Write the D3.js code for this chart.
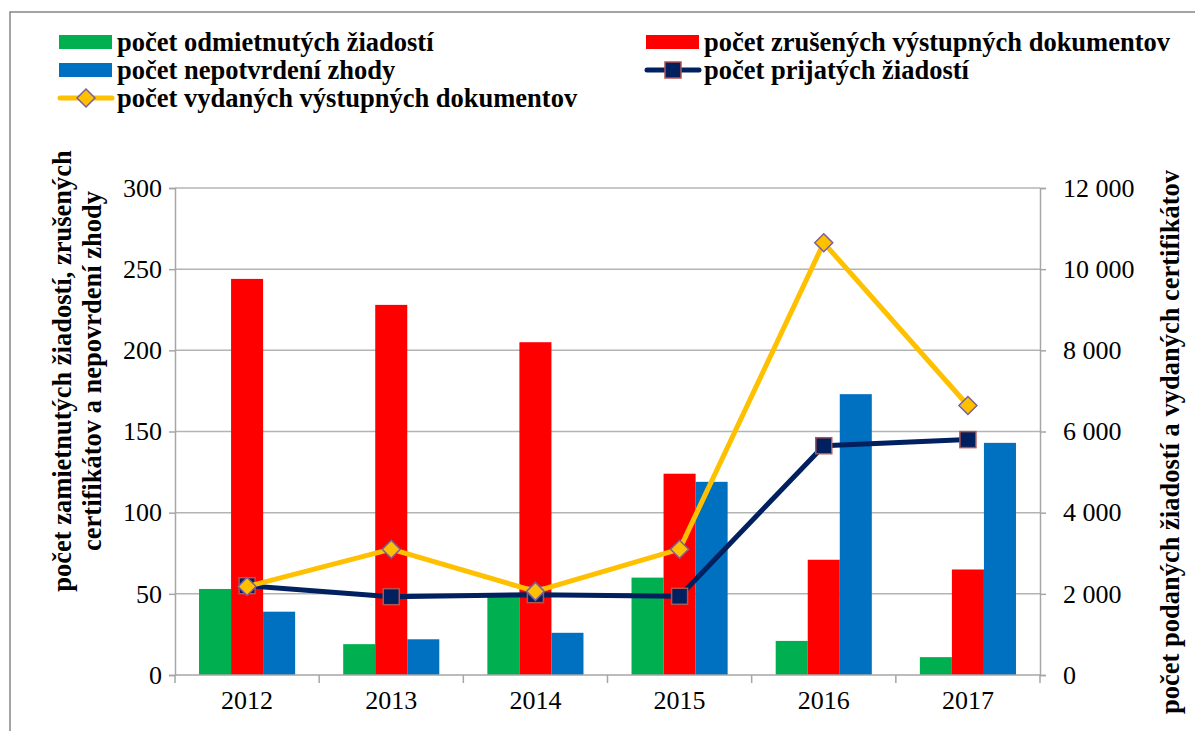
<!DOCTYPE html>
<html><head><meta charset="utf-8">
<script src="https://cdn.jsdelivr.net/npm/d3@7"></script>
<style>
html,body{margin:0;padding:0;background:#fff;}
svg{display:block;}
</style></head>
<body>
<svg id="chart" width="1195" height="731"></svg>
<script>
const years = ["2012","2013","2014","2015","2016","2017"];
const odmietnute = [53, 19, 49, 60, 21, 11];
const zrusene = [244, 228, 205, 124, 71, 65];
const nepotvrdenie = [39, 22, 26, 119, 173, 143];
const prijate = [2200, 1930, 1980, 1940, 5650, 5800];
const vydane = [2180, 3100, 2060, 3100, 10650, 6640];
const leftTicks = [0, 50, 100, 150, 200, 250, 300];
const rightTicks = [0, 2000, 4000, 6000, 8000, 10000, 12000];
const barSeries = [
  {name:"počet odmietnutých žiadostí", values:odmietnute, color:"#00B050"},
  {name:"počet zrušených výstupných dokumentov", values:zrusene, color:"#FF0000"},
  {name:"počet nepotvrdení zhody", values:nepotvrdenie, color:"#0070C0"}
];
const legendItems = [
  {name:"počet odmietnutých žiadostí", type:"bar", color:"#00B050"},
  {name:"počet zrušených výstupných dokumentov", type:"bar", color:"#FF0000"},
  {name:"počet nepotvrdení zhody", type:"bar", color:"#0070C0"},
  {name:"počet prijatých žiadostí", type:"square", color:"#002060"},
  {name:"počet vydaných výstupných dokumentov", type:"diamond", color:"#FFC000"}
];
const leftTitle = ["počet zamietnutých žiadostí, zrušených", "certifikátov a nepovrdení zhody"];
const rightTitle = "počet podaných žiadostí a vydaných certifikátov";

const FONT = "Liberation Serif";
const FS = 26;     // tick labels
const FSB = 26.5;  // bold labels
const svg = d3.select("#chart");
const W = 1195, H = 731;
const plot = {l:175, r:1040, t:188, b:675};
const axisColor = "#a6a6a6";
const bold = sel => sel.attr("font-family",FONT).attr("font-weight","bold").attr("fill","#000");

// outer frame
svg.append("rect").attr("x",10).attr("y",12).attr("width",W+20).attr("height",H+20)
  .attr("fill","none").attr("stroke","#868686").attr("stroke-width",1.5);

const x = d3.scaleBand().domain(years).range([plot.l, plot.r]).paddingInner(0).paddingOuter(0);
const groupW = x.bandwidth() * 2/3;
const xs = d3.scaleBand().domain(d3.range(barSeries.length)).range([-groupW/2, groupW/2]);
const yL = d3.scaleLinear().domain([0,300]).range([plot.b, plot.t]);
const yR = d3.scaleLinear().domain([0,12000]).range([plot.b, plot.t]);
const loc = d3.formatLocale({decimal:",", thousands:" ", grouping:[3], currency:["",""]});
const fmtR = loc.format(",d");

// gridlines
svg.append("g").selectAll("line").data(leftTicks.filter(d=>d>0)).join("line")
  .attr("x1",plot.l).attr("x2",plot.r)
  .attr("y1",d=>yL(d)).attr("y2",d=>yL(d))
  .attr("stroke","#b4b4b4").attr("stroke-width",1.5);

// left axis
const gL = svg.append("g").attr("transform",`translate(${plot.l},0)`)
  .call(d3.axisLeft(yL).tickValues(leftTicks).tickSize(6).tickPadding(7));
gL.attr("font-family",FONT).attr("font-size",FS);
gL.select(".domain").attr("stroke",axisColor).attr("stroke-width",1.5);
gL.selectAll(".tick line").attr("stroke",axisColor).attr("stroke-width",1.5);
gL.selectAll(".tick text").attr("fill","#000").attr("font-family",FONT);

// right axis
const gR = svg.append("g").attr("transform",`translate(${plot.r},0)`)
  .call(d3.axisRight(yR).tickValues(rightTicks).tickFormat(fmtR).tickSize(6).tickPadding(17));
gR.attr("font-family",FONT).attr("font-size",FS);
gR.select(".domain").attr("stroke",axisColor).attr("stroke-width",1.5);
gR.selectAll(".tick line").attr("stroke",axisColor).attr("stroke-width",1.5);
gR.selectAll(".tick text").attr("fill","#000").attr("font-family",FONT);

// bars
barSeries.forEach((s,i)=>{
  svg.append("g").selectAll("rect").data(s.values).join("rect")
    .attr("x",(d,j)=>x(years[j]) + x.bandwidth()/2 + xs(i))
    .attr("width",xs.bandwidth())
    .attr("y",d=>yL(d)).attr("height",d=>plot.b - yL(d))
    .attr("fill",s.color);
});

// bottom axis
const gB = svg.append("g").attr("transform",`translate(0,${plot.b})`)
  .call(d3.axisBottom(x).tickSize(0).tickPadding(16));
gB.attr("font-family",FONT).attr("font-size",FS);
gB.select(".domain").remove();
gB.selectAll(".tick text").attr("fill","#000").attr("font-family",FONT);
svg.append("line").attr("x1",plot.l).attr("x2",plot.r).attr("y1",plot.b).attr("y2",plot.b)
  .attr("stroke",axisColor).attr("stroke-width",1.5);
const bounds = years.map(y=>x(y)).concat([plot.r]);
svg.append("g").selectAll("line").data(bounds).join("line")
  .attr("x1",d=>d).attr("x2",d=>d).attr("y1",plot.b).attr("y2",plot.b+8)
  .attr("stroke",axisColor).attr("stroke-width",1.5);

// lines
const cx = (d,i)=>x(years[i]) + x.bandwidth()/2;
const lineGen = d3.line().x((d,i)=>cx(d,i)).y(d=>yR(d));
svg.append("path").datum(prijate).attr("d",lineGen).attr("fill","none")
  .attr("stroke","#002060").attr("stroke-width",5).attr("stroke-linejoin","round");
svg.append("g").selectAll("rect").data(prijate).join("rect")
  .attr("x",(d,i)=>cx(d,i)-8).attr("y",d=>yR(d)-8).attr("width",16).attr("height",16)
  .attr("fill","#002060").attr("stroke","#b5524e").attr("stroke-width",1.5);

svg.append("path").datum(vydane).attr("d",lineGen).attr("fill","none")
  .attr("stroke","#FFC000").attr("stroke-width",5).attr("stroke-linejoin","round");
const diamond = s => `M0,${-s}L${s},0L0,${s}L${-s},0Z`;
svg.append("g").selectAll("path").data(vydane).join("path")
  .attr("transform",(d,i)=>`translate(${cx(d,i)},${yR(d)})`)
  .attr("d",diamond(9))
  .attr("fill","#FFC000").attr("stroke","#7a5fa0").attr("stroke-width",1.5);

// axis titles
const tL = svg.append("text").attr("transform","translate(62,371) rotate(-90)")
  .attr("text-anchor","middle").attr("font-size",FSB).call(bold);
tL.append("tspan").attr("x",0).attr("dy","0.35em").text(leftTitle[0]);
tL.append("tspan").attr("x",0).attr("dy","1.13em").text(leftTitle[1]);
svg.append("text").attr("transform","translate(1170,442) rotate(-90)")
  .attr("text-anchor","middle").attr("font-size",FSB).call(bold)
  .attr("dy","0.35em").text(rightTitle);

// legend
const legPos = [[59,42],[646,42],[59,70],[646,70],[59,98]];
legendItems.forEach((it,i)=>{
  const [lx,ly] = legPos[i];
  const g = svg.append("g").attr("transform",`translate(${lx},${ly})`);
  if(it.type==="bar"){
    g.append("rect").attr("x",0).attr("y",-7).attr("width",53).attr("height",14).attr("fill",it.color);
  } else if(it.type==="square"){
    g.append("line").attr("x1",1).attr("x2",53).attr("y1",0).attr("y2",0)
      .attr("stroke",it.color).attr("stroke-width",5).attr("stroke-linecap","round");
    g.append("rect").attr("x",19).attr("y",-8).attr("width",16).attr("height",16)
      .attr("fill",it.color).attr("stroke","#b5524e").attr("stroke-width",1.5);
  } else {
    g.append("line").attr("x1",1).attr("x2",53).attr("y1",0).attr("y2",0)
      .attr("stroke",it.color).attr("stroke-width",5).attr("stroke-linecap","round");
    g.append("path").attr("transform","translate(27,0)").attr("d",diamond(9))
      .attr("fill",it.color).attr("stroke","#7a5fa0").attr("stroke-width",1.5);
  }
  g.append("text").attr("x",58).attr("y",0).attr("dy","0.35em")
    .attr("font-size",FSB).call(bold).text(it.name);
});
</script>
</body></html>
